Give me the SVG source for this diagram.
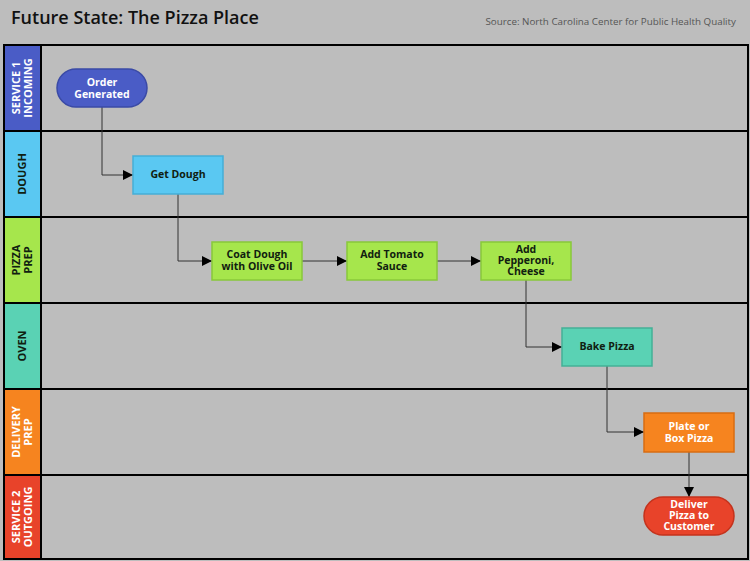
<svg xmlns="http://www.w3.org/2000/svg" width="750" height="561" viewBox="0 0 750 561">
<style>
.title{font-family:"Open Sans","Liberation Sans",sans-serif;font-weight:600;font-size:18px;fill:#111}
.src{font-family:"Open Sans","Liberation Sans",sans-serif;font-size:9.8px;fill:#555}
.hdr{font-family:"Open Sans","Liberation Sans",sans-serif;font-weight:700;font-size:11px;text-anchor:middle}
.lbl{font-family:"Open Sans","Liberation Sans",sans-serif;font-weight:700;font-size:10.5px;text-anchor:middle}
.dark{fill:#102010}
.light{fill:#ffffff}
.lane{fill:#bdbdbd;stroke:#000;stroke-width:2}
.conn{fill:none;stroke:#333;stroke-width:1}
</style>
<defs>
<marker id="arr" viewBox="0 0 10 10" refX="10" refY="5" markerWidth="10" markerHeight="10" markerUnits="userSpaceOnUse" orient="auto">
<path d="M0,0 L10,5 L0,10 z" fill="#000"/>
</marker>
</defs>
<rect x="0" y="0" width="750" height="561" fill="#bdbdbd"/>
<text class="title" x="11" y="24">Future State: The Pizza Place</text>
<text class="src" x="736" y="25" text-anchor="end">Source: North Carolina Center for Public Health Quality</text>

<g id="lanes">
<rect class="lane" x="4" y="45" width="744" height="86"/>
<rect class="lane" x="4" y="131" width="744" height="86"/>
<rect class="lane" x="4" y="217" width="744" height="86"/>
<rect class="lane" x="4" y="303" width="744" height="86"/>
<rect class="lane" x="4" y="389" width="744" height="86"/>
<rect class="lane" x="4" y="475" width="744" height="84"/>
<rect x="4" y="45" width="37" height="86" fill="#4a5cc6" stroke="#000" stroke-width="2"/>
<rect x="4" y="131" width="37" height="86" fill="#5ac8f2" stroke="#000" stroke-width="2"/>
<rect x="4" y="217" width="37" height="86" fill="#a6e64c" stroke="#000" stroke-width="2"/>
<rect x="4" y="303" width="37" height="86" fill="#5ad2b4" stroke="#000" stroke-width="2"/>
<rect x="4" y="389" width="37" height="86" fill="#f6841f" stroke="#000" stroke-width="2"/>
<rect x="4" y="475" width="37" height="84" fill="#e8432a" stroke="#000" stroke-width="2"/>
<text class="hdr light" transform="translate(20,88) rotate(-90)"><tspan x="0" y="0">SERVICE 1</tspan><tspan x="0" y="12">INCOMING</tspan></text>
<text class="hdr dark" transform="translate(26,174) rotate(-90)">DOUGH</text>
<text class="hdr dark" transform="translate(20,260) rotate(-90)"><tspan x="0" y="0">PIZZA</tspan><tspan x="0" y="12">PREP</tspan></text>
<text class="hdr dark" transform="translate(26,346) rotate(-90)">OVEN</text>
<text class="hdr light" transform="translate(20,432) rotate(-90)"><tspan x="0" y="0">DELIVERY</tspan><tspan x="0" y="12">PREP</tspan></text>
<text class="hdr light" transform="translate(20,517) rotate(-90)"><tspan x="0" y="0">SERVICE 2</tspan><tspan x="0" y="12">OUTGOING</tspan></text>
</g>

<g id="connectors">
<path class="conn" d="M102,107 V175 H133" marker-end="url(#arr)"/>
<path class="conn" d="M178,194 V261 H212" marker-end="url(#arr)"/>
<path class="conn" d="M302,261 H347" marker-end="url(#arr)"/>
<path class="conn" d="M437,261 H481" marker-end="url(#arr)"/>
<path class="conn" d="M526,280 V347 H562" marker-end="url(#arr)"/>
<path class="conn" d="M607,366 V432 H644" marker-end="url(#arr)"/>
<path class="conn" d="M689,452 V497" marker-end="url(#arr)"/>
</g>

<g id="order-generated">
<rect x="57" y="69" width="90" height="38" rx="19" fill="#4a5cc6" stroke="#3a4aa6" stroke-width="1.5"/>
<text class="lbl light"><tspan x="102" y="86">Order</tspan><tspan x="102" y="98">Generated</tspan></text>
</g>
<g id="get-dough">
<rect x="133" y="156" width="90" height="38" fill="#5ac8f2" stroke="#46aed6" stroke-width="1.5"/>
<text class="lbl dark" x="178" y="178">Get Dough</text>
</g>
<g id="coat-dough">
<rect x="212" y="242" width="90" height="38" fill="#a6e64c" stroke="#88c83a" stroke-width="1.5"/>
<text class="lbl dark"><tspan x="257" y="258">Coat Dough</tspan><tspan x="257" y="270">with Olive Oil</tspan></text>
</g>
<g id="add-tomato">
<rect x="347" y="242" width="90" height="38" fill="#a6e64c" stroke="#88c83a" stroke-width="1.5"/>
<text class="lbl dark"><tspan x="392" y="258">Add Tomato</tspan><tspan x="392" y="270">Sauce</tspan></text>
</g>
<g id="add-pepperoni">
<rect x="481" y="242" width="90" height="38" fill="#a6e64c" stroke="#88c83a" stroke-width="1.5"/>
<text class="lbl dark"><tspan x="526" y="253">Add</tspan><tspan x="526" y="264">Pepperoni,</tspan><tspan x="526" y="275">Cheese</tspan></text>
</g>
<g id="bake-pizza">
<rect x="562" y="328" width="90" height="38" fill="#5ad2b4" stroke="#44b096" stroke-width="1.5"/>
<text class="lbl dark" x="607" y="350">Bake Pizza</text>
</g>
<g id="plate-box">
<rect x="644" y="413" width="90" height="39" fill="#f6841f" stroke="#d86c12" stroke-width="1.5"/>
<text class="lbl light"><tspan x="689" y="430">Plate or</tspan><tspan x="689" y="442">Box Pizza</tspan></text>
</g>
<g id="deliver">
<rect x="644" y="497" width="90" height="38" rx="19" fill="#e8432a" stroke="#c4321c" stroke-width="1.5"/>
<text class="lbl light"><tspan x="689" y="508">Deliver</tspan><tspan x="689" y="519">Pizza to</tspan><tspan x="689" y="530">Customer</tspan></text>
</g>
</svg>
